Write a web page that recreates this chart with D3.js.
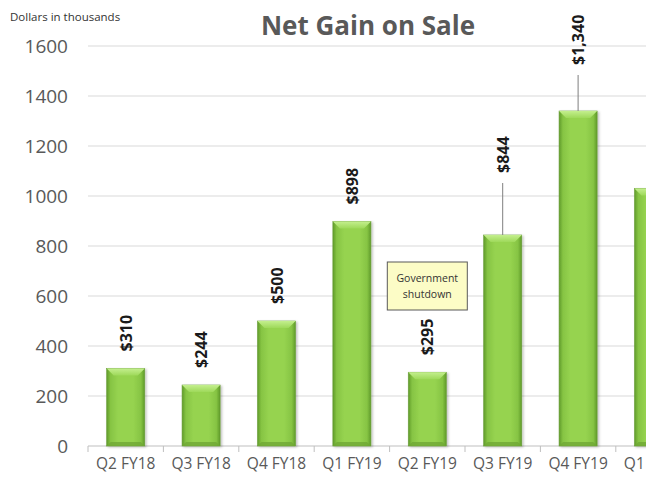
<!DOCTYPE html>
<html>
<head>
<meta charset="utf-8">
<script src="https://cdn.jsdelivr.net/npm/d3@7"></script>
<style>
  html, body { margin: 0; padding: 0; background: #fff; overflow: hidden; }
  svg { display: block; }
</style>
</head>
<body>
<svg id="chart" width="646" height="477"></svg>
<script>
// Quarterly net gain on sale, dollars in thousands
const quarters = ["Q2 FY18", "Q3 FY18", "Q4 FY18", "Q1 FY19", "Q2 FY19", "Q3 FY19", "Q4 FY19", "Q1 FY20"];
const gains = [310, 244, 500, 898, 295, 844, 1340, 1030];
const valueLabels = ["$310", "$244", "$500", "$898", "$295", "$844", "$1,340", "$1,030"];
const yTicks = [0, 200, 400, 600, 800, 1000, 1200, 1400, 1600];

// Labels lifted above their bar with a leader line
const liftedLabels = { "Q3 FY19": 45, "Q4 FY19": 29, "Q1 FY20": 19 };

const svg = d3.select("#chart");
const W = 646, H = 477;
const plotLeft = 88, plotBottom = 446, plotTop = 46;
const step = 75.4;

const x = d3.scaleBand()
  .domain(quarters)
  .range([plotLeft, plotLeft + step * quarters.length])
  .padding(0);

const y = d3.scaleLinear().domain([0, 1600]).range([plotBottom, plotTop]);

const barW = x.bandwidth() * 0.505;

// Gradients for the bevelled bars
const defs = svg.append("defs");
const body = defs.append("linearGradient").attr("id", "barBody")
  .attr("x1", "0%").attr("x2", "100%").attr("y1", "0%").attr("y2", "0%");
[["0%", "#5f9a2a"], ["10%", "#86c443"], ["30%", "#96d350"], ["70%", "#96d350"], ["90%", "#86c443"], ["100%", "#5f9a2a"]]
  .forEach(([o, c]) => body.append("stop").attr("offset", o).attr("stop-color", c));
const cap = defs.append("linearGradient").attr("id", "barCap")
  .attr("x1", "0%").attr("x2", "0%").attr("y1", "0%").attr("y2", "100%");
[["0%", "#c4ef8e"], ["100%", "#9ed95a"]]
  .forEach(([o, c]) => cap.append("stop").attr("offset", o).attr("stop-color", c));
const shade = defs.append("filter").attr("id", "shadow").attr("x", "-20%").attr("y", "-5%").attr("width", "150%").attr("height", "115%");
shade.append("feDropShadow").attr("dx", 1.5).attr("dy", 1).attr("stdDeviation", 1.2).attr("flood-color", "#000").attr("flood-opacity", 0.25);

// Horizontal gridlines
svg.append("g")
  .selectAll("line")
  .data(yTicks.filter(d => d > 0))
  .join("line")
  .attr("x1", plotLeft).attr("x2", W + 60)
  .attr("y1", d => y(d)).attr("y2", d => y(d))
  .attr("stroke", "#d9d9d9").attr("stroke-width", 1);

// Y axis labels
const yAxis = d3.axisLeft(y).tickValues(yTicks).tickSize(0).tickPadding(20).tickFormat(d3.format("d"));
svg.append("g")
  .attr("transform", `translate(${plotLeft},0)`)
  .call(yAxis)
  .call(g => g.select(".domain").remove())
  .call(g => g.selectAll("text")
    .attr("fill", "#595959")
    .style("font-family", "'Open Sans', sans-serif")
    .style("font-size", "19px"));

// X axis with ticks at category boundaries
const xAxis = d3.axisBottom(x).tickSize(0).tickPadding(12);
const xg = svg.append("g")
  .attr("transform", `translate(0,${plotBottom})`)
  .call(xAxis);
xg.select(".domain").attr("stroke", "#bfbfbf").attr("d", `M${plotLeft},0H${W + 60}`);
xg.selectAll("text")
  .attr("fill", "#595959")
  .style("font-family", "'Open Sans', sans-serif")
  .style("font-size", "15.5px");
xg.selectAll(".boundary")
  .data(quarters)
  .join("line")
  .attr("class", "boundary")
  .attr("x1", d => x(d)).attr("x2", d => x(d))
  .attr("y1", 0).attr("y2", 6)
  .attr("stroke", "#bfbfbf");

// Bars
const bars = svg.append("g")
  .selectAll("g")
  .data(quarters.map((q, i) => ({ q, v: gains[i], label: valueLabels[i] })))
  .join("g")
  .attr("transform", d => `translate(${x(d.q) + (x.bandwidth() - barW) / 2},0)`);

bars.append("rect")
  .attr("x", 0).attr("width", barW)
  .attr("y", d => y(d.v)).attr("height", d => y(0) - y(d.v))
  .attr("fill", "url(#barBody)")
  .attr("stroke", "#6b9e3a").attr("stroke-width", 0.6)
  .attr("filter", "url(#shadow)");

bars.append("path")
  .attr("d", d => {
    const t = y(d.v), b = 7;
    return `M0,${t}H${barW}L${barW - b},${t + b}H${b}Z`;
  })
  .attr("fill", "url(#barCap)");

bars.append("path")
  .attr("d", d => {
    const bt = y(0), b = 4;
    return `M0,${bt}H${barW}L${barW - b},${bt - b}H${b}Z`;
  })
  .attr("fill", "#6fa834").attr("opacity", 0.8);

// Value labels (rotated), some raised with a leader line
const cx = barW / 2;
bars.each(function (d) {
  const g = d3.select(this);
  const lift = liftedLabels[d.q] || 0;
  const labelBase = y(d.v) - 17 - lift;
  if (lift) {
    g.append("line")
      .attr("x1", cx).attr("x2", cx)
      .attr("y1", labelBase + 10).attr("y2", y(d.v))
      .attr("stroke", "#7f7f7f").attr("stroke-width", 1);
  }
  g.append("text")
    .attr("transform", `translate(${cx + 6},${labelBase}) rotate(-90)`)
    .attr("text-anchor", "start")
    .attr("fill", "#1a1a1a")
    .style("font-family", "'Open Sans', sans-serif")
    .style("font-weight", "700")
    .style("font-size", "16px")
    .text(d.label);
});

// Annotation box
const note = svg.append("g");
const noteX = x("Q2 FY19") + x.bandwidth() / 2;
note.append("rect")
  .attr("x", noteX - 40).attr("y", 262)
  .attr("width", 80).attr("height", 48)
  .attr("fill", "#fcfcc6").attr("stroke", "#595959").attr("stroke-width", 1);
note.append("text")
  .attr("x", noteX).attr("y", 282)
  .attr("text-anchor", "middle")
  .attr("fill", "#333")
  .style("font-family", "'Open Sans', sans-serif")
  .style("font-size", "10.5px")
  .selectAll("tspan")
  .data(["Government", "shutdown"])
  .join("tspan")
  .attr("x", noteX)
  .attr("dy", (d, i) => i ? 16 : 0)
  .text(d => d);

// Title and unit note
svg.append("text")
  .attr("x", 368).attr("y", 35)
  .attr("text-anchor", "middle")
  .attr("fill", "#595959")
  .style("font-family", "'Open Sans', sans-serif")
  .style("font-weight", "700")
  .style("font-size", "26px")
  .text("Net Gain on Sale");

svg.append("text")
  .attr("x", 10).attr("y", 21)
  .attr("fill", "#333")
  .style("font-family", "'Open Sans', sans-serif")
  .style("font-size", "11.5px")
  .text("Dollars in thousands");
</script>
</body>
</html>
